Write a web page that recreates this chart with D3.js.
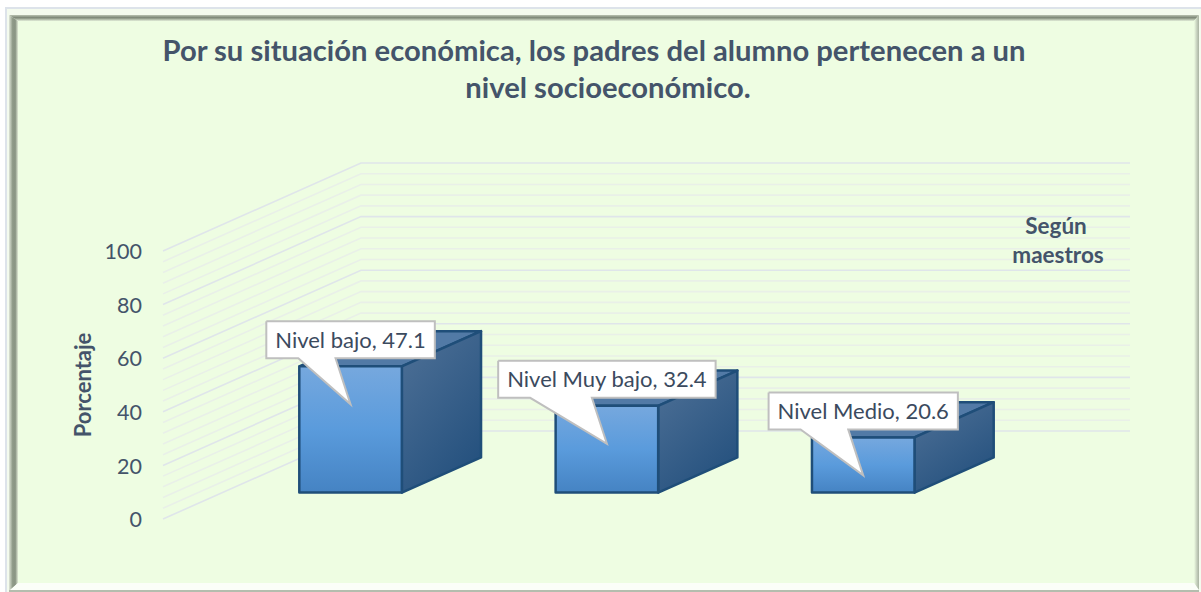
<!DOCTYPE html>
<html>
<head>
<meta charset="utf-8">
<script src="https://d3js.org/d3.v7.min.js"></script>
<style>
body { margin: 0; background: #fff; overflow: hidden; }
svg { display: block; }
text { font-family: Lato, "Open Sans", sans-serif; }
</style>
</head>
<body>
<div id="chart"></div>
<script>
const categories = ["Nivel bajo", "Nivel Muy bajo", "Nivel Medio"];
const values = [47.1, 32.4, 20.6];
const titleLines = ["Por su situación económica, los padres del alumno pertenecen a un", "nivel socioeconómico."];
const noteLines = ["Según", "maestros"];
const yTicks = [0, 20, 40, 60, 80, 100];
const yTitle = "Porcentaje";

const width = 1201, height = 592;

const svg = d3.select("#chart").append("svg")
  .attr("width", width)
  .attr("height", height);

const defs = svg.append("defs");

function gradient(id, x2, y2, stops) {
  const g = defs.append("linearGradient").attr("id", id)
    .attr("x1", 0).attr("y1", 0).attr("x2", x2).attr("y2", y2);
  stops.forEach(s => g.append("stop").attr("offset", s[0]).attr("stop-color", s[1]));
}
gradient("front", 0, 1, [[0, "#76a8de"], [0.5, "#5a9bdc"], [1, "#4583c3"]]);
gradient("side", 0.6, 1, [[0, "#4f7197"], [1, "#26527f"]]);
gradient("leftBevel", 1, 0, [[0, "#dfe6d8"], [0.4, "#8f9a88"], [0.7, "#8a9584"], [1, "#dfe9d4"]]);
gradient("topBevel", 0, 1, [[0, "#b9c2b1"], [0.45, "#7d8777"], [1, "#e2edd8"]]);
gradient("rightBevel", 1, 0, [[0, "#eefde2"], [0.6, "#c3cdbb"], [1, "#a9b3a2"]]);

// frame
svg.append("rect").attr("x", 5).attr("y", 7).attr("width", 1196).attr("height", 585).attr("fill", "#dde3ea");
svg.append("rect").attr("x", 7).attr("y", 9).attr("width", 1194).attr("height", 583).attr("fill", "#f4fbee");
svg.append("rect").attr("x", 18).attr("y", 20).attr("width", 1178).attr("height", 563).attr("fill", "#eefde2");
svg.append("polygon").attr("points", "9,15 1199,15 1194,21 18,21").attr("fill", "url(#topBevel)");
svg.append("polygon").attr("points", "9,15 18,21 18,583 9,591").attr("fill", "url(#leftBevel)");
svg.append("polygon").attr("points", "1199,15 1199,591 1194,583 1194,21").attr("fill", "url(#rightBevel)");
svg.append("polygon").attr("points", "9,591 18,583 1194,583 1199,590").attr("fill", "#fbfef8");
svg.append("rect").attr("x", 9).attr("y", 590).attr("width", 1190).attr("height", 2).attr("fill", "#b4bdae");

// scales: the floor runs along x, the depth shifts every point up and to the right
const y = d3.scaleLinear().domain([0, 100]).range([519, 251]);
const x = d3.scaleBand().domain(categories).range([163, 932]);
const depthX = 198, depthY = 88;
const barDepth = 0.3, barDepthEnd = 0.7;
const barW = x.bandwidth() * 0.4;
const barH = v => y(0) - y(v);

// grid
const grid = svg.append("g").attr("fill", "none");
d3.range(0, 101, 4).forEach(t => {
  const major = t % 20 === 0;
  grid.append("path")
    .attr("d", d3.line()([
      [x.range()[0], y(t)],
      [x.range()[0] + depthX, y(t) - depthY],
      [1130, y(t) - depthY]
    ]))
    .attr("stroke", major ? "#dfe5ea" : "#e9f0e8")
    .attr("stroke-width", 1.6);
});

// y axis
const axis = svg.append("g")
  .attr("transform", "translate(150,0)")
  .call(d3.axisLeft(y).tickValues(yTicks).tickSize(0).tickPadding(8));
axis.select(".domain").remove();
axis.selectAll("text")
  .attr("fill", "#44546a")
  .attr("dy", "0.36em")
  .style("font-family", "Lato, sans-serif")
  .style("font-size", "21.5px");

svg.append("text")
  .attr("transform", "translate(91,385) rotate(-90)")
  .attr("text-anchor", "middle")
  .attr("fill", "#44546a")
  .style("font-size", "22px")
  .style("font-weight", "bold")
  .text(yTitle);

// title
const titleX = [594, 608];
svg.selectAll(".title").data(titleLines).enter().append("text")
  .attr("class", "title")
  .attr("x", (d, i) => titleX[i])
  .attr("y", (d, i) => 61 + i * 37)
  .attr("text-anchor", "middle")
  .attr("fill", "#44546a")
  .style("font-size", "29.2px")
  .style("font-weight", "bold")
  .text(d => d);

// note
svg.selectAll(".note").data(noteLines).enter().append("text")
  .attr("class", "note")
  .attr("x", (d, i) => 1056 + i * 2)
  .attr("y", (d, i) => 234 + i * 29)
  .attr("text-anchor", "middle")
  .attr("fill", "#44546a")
  .style("font-size", "22.5px")
  .style("font-weight", "bold")
  .text(d => d);

// bars
const rows = categories.map((c, i) => ({ cat: c, val: values[i] }));
const dx = depthX * (barDepthEnd - barDepth), dy = depthY * (barDepthEnd - barDepth);
const frontX = d => x(d.cat) + x.bandwidth() / 2 - barW / 2 + depthX * barDepth;
const baseY = y(0) - depthY * barDepth;

const bars = svg.selectAll(".bar").data(rows).enter().append("g").attr("class", "bar")
  .attr("stroke", "#1f4e79").attr("stroke-width", 2.5).attr("stroke-linejoin", "round");

bars.append("path").attr("fill", "#527aa6").attr("d", d => {
  const l = frontX(d), t = baseY - barH(d.val);
  return d3.line()([[l, t], [l + dx, t - dy], [l + barW + dx, t - dy], [l + barW, t], [l, t]]);
});
bars.append("path").attr("fill", "url(#side)").attr("d", d => {
  const r = frontX(d) + barW, t = baseY - barH(d.val);
  return d3.line()([[r, t], [r + dx, t - dy], [r + dx, baseY - dy], [r, baseY], [r, t]]);
});
bars.append("rect").attr("fill", "url(#front)")
  .attr("x", frontX)
  .attr("y", d => baseY - barH(d.val))
  .attr("width", barW)
  .attr("height", d => barH(d.val));

// callouts, pointing into the middle of each front face
const labels = svg.selectAll(".label").data(rows).enter().append("g").attr("class", "label");
const labelText = labels.append("text")
  .attr("text-anchor", "middle")
  .attr("fill", "#3b4a5e")
  .style("font-size", "22px")
  .attr("x", d => frontX(d) + barW / 2)
  .attr("y", d => baseY - barH(d.val) - 18.5)
  .text(d => d.cat + ", " + d.val);

labelText.each(function(d) {
  const w = this.getComputedTextLength() + 18;
  const tipX = frontX(d) + barW / 2, tipY = baseY - barH(d.val) + 38;
  const l = tipX - w / 2, r = tipX + w / 2, t = tipY - 83, b = tipY - 46;
  d3.select(this.parentNode).insert("path", "text")
    .attr("d", d3.line()([[l, t], [r, t], [r, b], [tipX - 15, b], [tipX, tipY], [l + 32, b], [l, b], [l, t]]))
    .attr("fill", "#fff")
    .attr("stroke", "#bfbfbf")
    .attr("stroke-width", 2);
});
</script>
</body>
</html>
